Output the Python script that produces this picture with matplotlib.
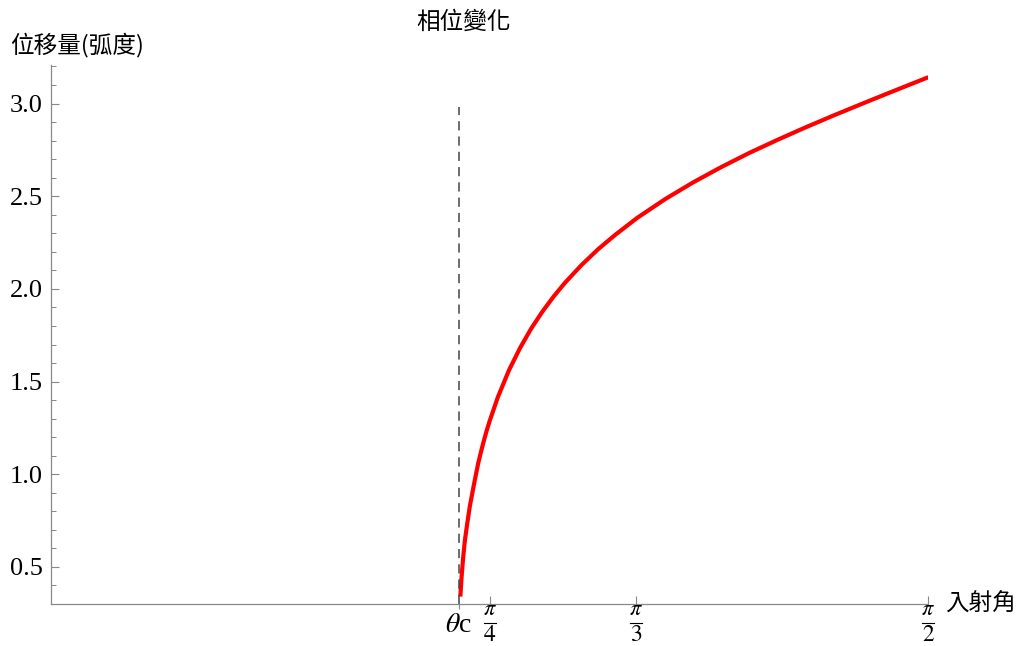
import numpy as np
import matplotlib.pyplot as plt
from matplotlib.lines import Line2D

plt.rcParams['font.family'] = ['Liberation Serif', 'DejaVu Serif']
plt.rcParams['mathtext.fontset'] = 'stix'
cjk = ['Noto Sans CJK TC', 'DejaVu Sans']

# phase shift curve (angle in radians, shift in radians)
angle = [0.733, 0.735, 0.738, 0.741, 0.745, 0.750, 0.757, 0.765, 0.770, 0.775,
         0.780, 0.785, 0.800, 0.820, 0.840, 0.860, 0.880, 0.900, 0.920, 0.950,
         0.980, 1.010, 1.050, 1.100, 1.150, 1.200, 1.250, 1.300, 1.350, 1.400,
         1.450, 1.500, 1.525, 1.550, 1.571]
shift = [0.340, 0.440, 0.550, 0.640, 0.728, 0.828, 0.940, 1.060, 1.122, 1.180,
         1.234, 1.283, 1.415, 1.561, 1.682, 1.787, 1.878, 1.959, 2.032, 2.129,
         2.215, 2.291, 2.384, 2.485, 2.575, 2.657, 2.733, 2.803, 2.870, 2.934,
         2.996, 3.057, 3.087, 3.117, 3.142]
theta_c = 0.7297
dash_top = 2.98

frac_pos = [np.pi / 4, np.pi / 3, np.pi / 2]
frac_den = ['4', '3', '2']

fig = plt.figure(figsize=(10.19, 6.46), dpi=100)
ax = fig.add_axes([0.050, 0.065, 0.861, 0.835])

ax.plot(angle, shift, color='#ff0000', lw=3.0, solid_capstyle='butt',
        solid_joinstyle='round')
ax.plot([theta_c, theta_c], [0.3, dash_top], color='#444444', lw=1.1,
        linestyle=(0, (6, 4)))

ax.set_xlim(0, np.pi / 2)
ax.set_ylim(0.3, 3.21)

for s in ['top', 'right']:
    ax.spines[s].set_visible(False)
for s in ['left', 'bottom']:
    ax.spines[s].set_color('#888888')
    ax.spines[s].set_linewidth(0.9)

ax.set_yticks([0.5, 1.0, 1.5, 2.0, 2.5, 3.0])
ax.set_yticks(np.arange(0.4, 3.25, 0.1), minor=True)
ax.tick_params(axis='y', which='major', direction='in', length=6, width=0.8,
               color='#888888', labelsize=19, pad=6)
ax.tick_params(axis='y', which='minor', direction='in', length=3.5, width=0.7,
               color='#888888')

ax.set_xticks(frac_pos)
ax.set_xticklabels([''] * 3)
ax.tick_params(axis='x', which='major', direction='in', length=6, width=0.8,
               color='#888888')
# small outward tick at the critical angle
ax.set_xticks([theta_c], minor=True)
ax.tick_params(axis='x', which='minor', direction='out', length=3.5, width=0.8,
               color='#888888')

ax.annotate(r'$\theta$c', (theta_c, 0.3), xytext=(0, -15.8),
            textcoords='offset points', fontsize=20, ha='center', va='center')
for p, d in zip(frac_pos, frac_den):
    ax.annotate(r'$\pi$', (p, 0.3), xytext=(0, -11.8), textcoords='offset points',
                fontsize=16, ha='center', va='bottom')
    ax.annotate('$' + d + '$', (p, 0.3), xytext=(0, -15.2),
                textcoords='offset points', fontsize=17, ha='center', va='top')
    px, py = ax.transData.transform((p, 0.3))
    fig.add_artist(Line2D([px - 6, px + 6], [py - 18.5, py - 18.5], lw=0.8,
                          color='black', transform=None))

fig.text(464 / 1019, 1 - 22 / 646, '相位變化', family=cjk, fontsize=17,
         ha='center', va='center')
fig.text(10 / 1019, 1 - 45 / 646, '位移量(弧度)', family=cjk, fontsize=17,
         ha='left', va='center')
fig.text(945 / 1019, 1 - 604 / 646, '入射角', family=cjk, fontsize=17,
         ha='left', va='center')

fig.savefig('out.png', dpi=100, facecolor='white')
